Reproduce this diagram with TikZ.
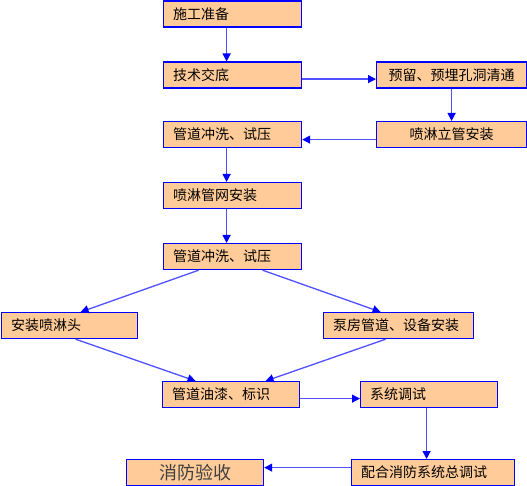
\documentclass[tikz,border=0pt]{standalone}
\usepackage{fontspec}
\newfontfamily\cjk{Noto Sans CJK SC}
\usetikzlibrary{arrows.meta}
\definecolor{boxfill}{HTML}{FFCC99}
\definecolor{linkblue}{HTML}{5050FF}
\definecolor{bordblue}{HTML}{0000FF}
\begin{document}
\begin{tikzpicture}[x=1pt,y=-1pt,
  box/.style={draw=bordblue, fill=boxfill, line width=1.2pt, inner xsep=9.5pt, inner ysep=0pt,
    minimum height=26pt, anchor=north west, align=left,
    font=\cjk\fontsize{14}{14}\selectfont},
  cbox/.style={box, align=center},
  link/.style={draw=linkblue, line width=1.3pt, -{Triangle[length=8pt,width=8pt,color=bordblue]}}
]
\useasboundingbox (0,0) rectangle (527,486);
\node[box, text width=119pt] (A) at (163,0.5) {施工准备};
\node[box, text width=119pt] (B) at (163,61.5) {技术交底};
\node[cbox, text width=131pt] (C) at (376,61.5) {预留、预埋孔洞清通};
\node[cbox, text width=131pt] (D) at (376,121) {喷淋立管安装};
\node[box, text width=119pt] (E) at (163,121) {管道冲洗、试压};
\node[box, text width=119pt] (F) at (163,182) {喷淋管网安装};
\node[box, text width=119pt] (G) at (163,243) {管道冲洗、试压};
\node[box, text width=117pt] (H) at (1,312) {安装喷淋头};
\node[box, text width=131pt] (I) at (323,312) {泵房管道、设备安装};
\node[box, text width=118pt] (J) at (162,381) {管道油漆、标识};
\node[box, text width=118pt] (K) at (360,381) {系统调试};
\node[cbox, text width=118pt, font=\cjk\fontsize{18}{18}\selectfont, text=black!75] (L) at (126,459) {消防验收};
\node[box, text width=144pt] (M) at (351,459) {配合消防系统总调试};

\draw[link] ([xshift=-6pt]A.south) -- ([xshift=-6pt]B.north);
\draw[link] ([yshift=-4pt]B.east) -- ([yshift=-4pt]C.west);
\draw[link] (C.south) -- (D.north);
\draw[link] ([yshift=-5pt]D.west) -- ([yshift=-5pt]E.east);
\draw[link] ([xshift=-6pt]E.south) -- ([xshift=-6pt]F.north);
\draw[link] ([xshift=-6pt]F.south) -- ([xshift=-6pt]G.north);
\draw[link] ([xshift=-34pt]G.south) -- ([xshift=11pt]H.north);
\draw[link] ([xshift=30pt]G.south) -- ([xshift=-18pt]I.north);
\draw[link] ([xshift=6pt]H.south) -- ([xshift=-35.5pt]J.north);
\draw[link] ([xshift=-13pt]I.south) -- ([xshift=34.5pt]J.north);
\draw[link] ([yshift=-4pt]J.east) -- ([yshift=-4pt]K.west);
\draw[link] ([xshift=-2.5pt]K.south) -- ([xshift=-2.5pt]K.south |- M.north);
\draw[link] ([yshift=5pt]M.west) -- ([yshift=5pt]M.west -| L.east);
\end{tikzpicture}
\end{document}
